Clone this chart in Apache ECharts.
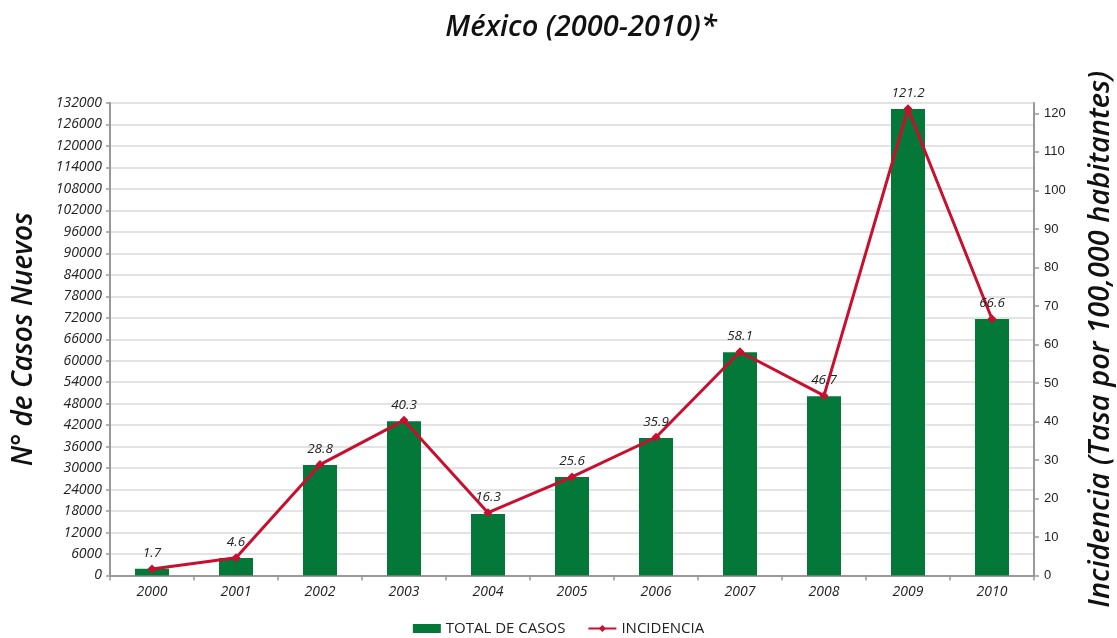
<!DOCTYPE html>
<html>
<head>
<meta charset="utf-8">
<script src="https://cdn.jsdelivr.net/npm/echarts@6/dist/echarts.min.js"></script>
<style>html,body{margin:0;padding:0;background:#fff}#c{width:1117px;height:638px}</style>
</head>
<body>
<div id="c"></div>
<script>
const years = ['2000','2001','2002','2003','2004','2005','2006','2007','2008','2009','2010'];
const totalCasos = [1900, 4900, 30900, 43100, 17200, 27500, 38400, 62400, 50100, 130300, 71650];
const incidencia = [1.7, 4.6, 28.8, 40.3, 16.3, 25.6, 35.9, 58.1, 46.7, 121.2, 66.6];

const chart = echarts.init(document.getElementById('c'));
const font = '"Open Sans", "DejaVu Sans", sans-serif';
chart.setOption({
  animation: false,
  textStyle: { fontFamily: font },
  title: {
    text: 'México (2000-2010)*',
    left: 576, top: 8, textAlign: 'center',
    textStyle: { fontSize: 29, fontWeight: 600, fontStyle: 'italic', color: '#111', fontFamily: font }
  },
  legend: {
    top: 621, left: 'center', padding: 0, itemGap: 22, itemWidth: 28, itemHeight: 9,
    textStyle: { fontSize: 15, color: '#222', fontFamily: font },
    data: [
      { name: 'TOTAL DE CASOS', icon: 'rect' },
      { name: 'INCIDENCIA' }
    ]
  },
  grid: { left: 110, right: 83, top: 103, bottom: 62.5, containLabel: false, outerBoundsMode: 'none' },
  xAxis: {
    type: 'category', data: years, boundaryGap: true,
    axisLine: { lineStyle: { color: '#999', width: 2 } },
    axisTick: { show: true, length: 5, lineStyle: { color: '#999', width: 1.5 } },
    axisLabel: { fontSize: 14, fontStyle: 'italic', color: '#222', margin: 10, fontFamily: font }
  },
  yAxis: [
    {
      type: 'value', min: 0, max: 132000, interval: 6000,
      name: 'N° de Casos Nuevos', nameLocation: 'middle', nameGap: 72, nameRotate: 90,
      nameTextStyle: { fontSize: 28, fontStyle: 'italic', fontWeight: 600, color: '#111', fontFamily: font },
      axisLine: { show: true, lineStyle: { color: '#999', width: 2 } },
      axisTick: { show: true, length: 4, lineStyle: { color: '#999', width: 1.5 } },
      axisLabel: { fontSize: 14, fontStyle: 'italic', color: '#222', margin: 8, fontFamily: font,
        formatter: v => String(v) },
      splitLine: { show: true, lineStyle: { color: '#e3e3e3', width: 2 } }
    },
    {
      type: 'value', min: 0, max: 122.7, interval: 10,
      name: 'Incidencia (Tasa por 100,000 habitantes)', nameLocation: 'middle', nameGap: 52, nameRotate: 90,
      nameTextStyle: { fontSize: 29, fontStyle: 'italic', fontWeight: 600, color: '#111', fontFamily: font },
      axisLine: { show: true, lineStyle: { color: '#999', width: 2 } },
      axisTick: { show: true, length: 5, lineStyle: { color: '#999', width: 1.5 } },
      axisLabel: { fontSize: 13, color: '#222', margin: 10, showMaxLabel: false, fontFamily: '"Liberation Sans", sans-serif' },
      splitLine: { show: false }
    }
  ],
  series: [
    {
      name: 'TOTAL DE CASOS', type: 'bar', yAxisIndex: 0, data: totalCasos,
      barWidth: 34, itemStyle: { color: '#037838' }
    },
    {
      name: 'INCIDENCIA', type: 'line', yAxisIndex: 1, data: incidencia,
      symbol: 'diamond', symbolSize: 9, showAllSymbol: true,
      lineStyle: { color: '#c8102e', width: 3 },
      itemStyle: { color: '#c8102e' },
      label: { show: true, position: 'top', distance: 4, fontSize: 13.5, fontStyle: 'italic', color: '#222', fontFamily: font },
      z: 5
    }
  ]
});
</script>
</body>
</html>
